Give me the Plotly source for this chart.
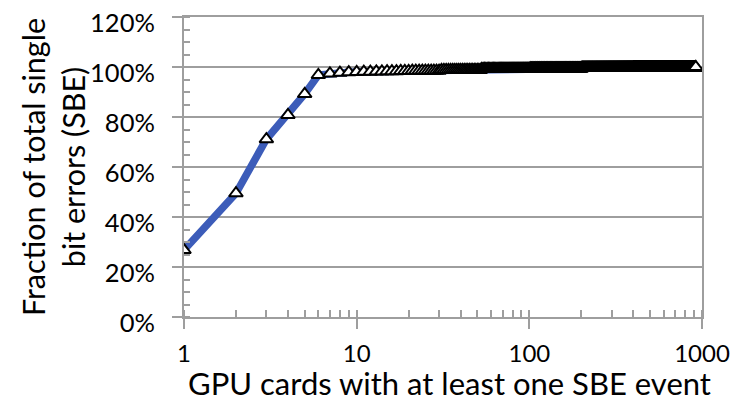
import plotly.graph_objects as go

# ---- data ----
# first 20 GPU cards, cumulative fraction of SBE (%)
head_cards = list(range(1, 21))
head_frac = [26.8, 49.5, 71.1, 80.8, 89.2, 96.8, 97.4, 97.7, 97.9, 98.0,
             98.1, 98.1, 98.2, 98.2, 98.3, 98.3, 98.3, 98.4, 98.4, 98.4]
# long tail: cumulative fraction levels (%) read at picture resolution,
# each held up to the given card number
tail_last_card = [30, 52, 100, 200, 400, 919, 920]
tail_frac = [98.5, 98.8, 99.2, 99.4, 99.6, 99.7, 100.0]

x_tickvals = [1, 10, 100, 1000]
x_ticktext = ["1", "10", "100", "1000"]
y_tickvals = [0, 20, 40, 60, 80, 100, 120]
y_ticktext = ["0%", "20%", "40%", "60%", "80%", "100%", "120%"]

x_title = "GPU cards with at least one SBE event"
y_title = "Fraction of total single<br>bit errors (SBE)"

# ---- build series table ----
cards = list(head_cards)
frac = list(head_frac)
start = head_cards[-1] + 1
for last, level in zip(tail_last_card, tail_frac):
    for c in range(start, last + 1):
        cards.append(c)
        frac.append(level)
    start = last + 1

GRAY = "#9e9e9e"
FONT = "Lato"

fig = go.Figure()
fig.add_trace(go.Scatter(
    x=cards, y=frac, mode="lines+markers",
    line=dict(color="#3c5cb9", width=7.5),
    marker=dict(symbol="triangle-up", size=12, color="white",
                line=dict(color="black", width=2)),
    showlegend=False, hoverinfo="skip",
))
# helper trace for the inner part of the major x ticks
fig.add_trace(go.Scatter(x=[1, 1000], y=[None, None], xaxis="x2",
                         mode="markers", showlegend=False, hoverinfo="skip"))

# page body has an 8px margin: the figure starts at (8, 8) in the window
fig.update_layout(
    width=741, height=401,
    margin=dict(l=176, r=47, t=9, b=92),
    paper_bgcolor="white", plot_bgcolor="white",
    font=dict(family=FONT, size=24, color="black"),
    xaxis=dict(
        type="log", range=[0, 3], automargin=False,
        tickmode="array", tickvals=x_tickvals, ticktext=x_ticktext,
        tickfont=dict(size=24), ticklabeloverflow="allow",
        ticks="outside", ticklen=10, tickwidth=2, tickcolor=GRAY,
        showline=True, linecolor=GRAY, linewidth=2, mirror=True,
        showgrid=False, zeroline=False,
        ticklabelstandoff=4,
        minor=dict(ticks="inside", ticklen=7, tickwidth=2, tickcolor=GRAY,
                   dtick="D1", showgrid=False),
    ),
    xaxis2=dict(
        type="log", range=[0, 3], overlaying="x", anchor="y", automargin=False,
        tickmode="array", tickvals=x_tickvals[1:],
        ticks="inside", ticklen=7, tickwidth=2, tickcolor=GRAY,
        showticklabels=False, showline=False, showgrid=False, zeroline=False,
    ),
    yaxis=dict(
        range=[0, 120], automargin=False,
        tickmode="array", tickvals=y_tickvals, ticktext=y_ticktext,
        tickfont=dict(size=25.5), ticklabeloverflow="allow",
        ticks="outside", ticklen=10, tickwidth=2, tickcolor=GRAY,
        ticklabelstandoff=12, ticklabelshift=6,
        showline=True, linecolor=GRAY, linewidth=2, mirror=True,
        showgrid=True, gridcolor=GRAY, gridwidth=2, zeroline=False,
        minor=dict(ticks="inside", ticklen=6, tickwidth=2, tickcolor=GRAY,
                   dtick=5, showgrid=False),
    ),
    annotations=[
        dict(text=x_title, xref="paper", yref="paper", x=0.5, y=0,
             xanchor="center", yanchor="middle", yshift=-66, xshift=6,
             showarrow=False, font=dict(size=31)),
        dict(text=y_title, xref="paper", yref="paper", x=0, y=0.5,
             xanchor="center", yanchor="middle", xshift=-131, textangle=-90,
             showarrow=False, font=dict(size=30.5)),
    ],
)

fig.write_html("out.html")
